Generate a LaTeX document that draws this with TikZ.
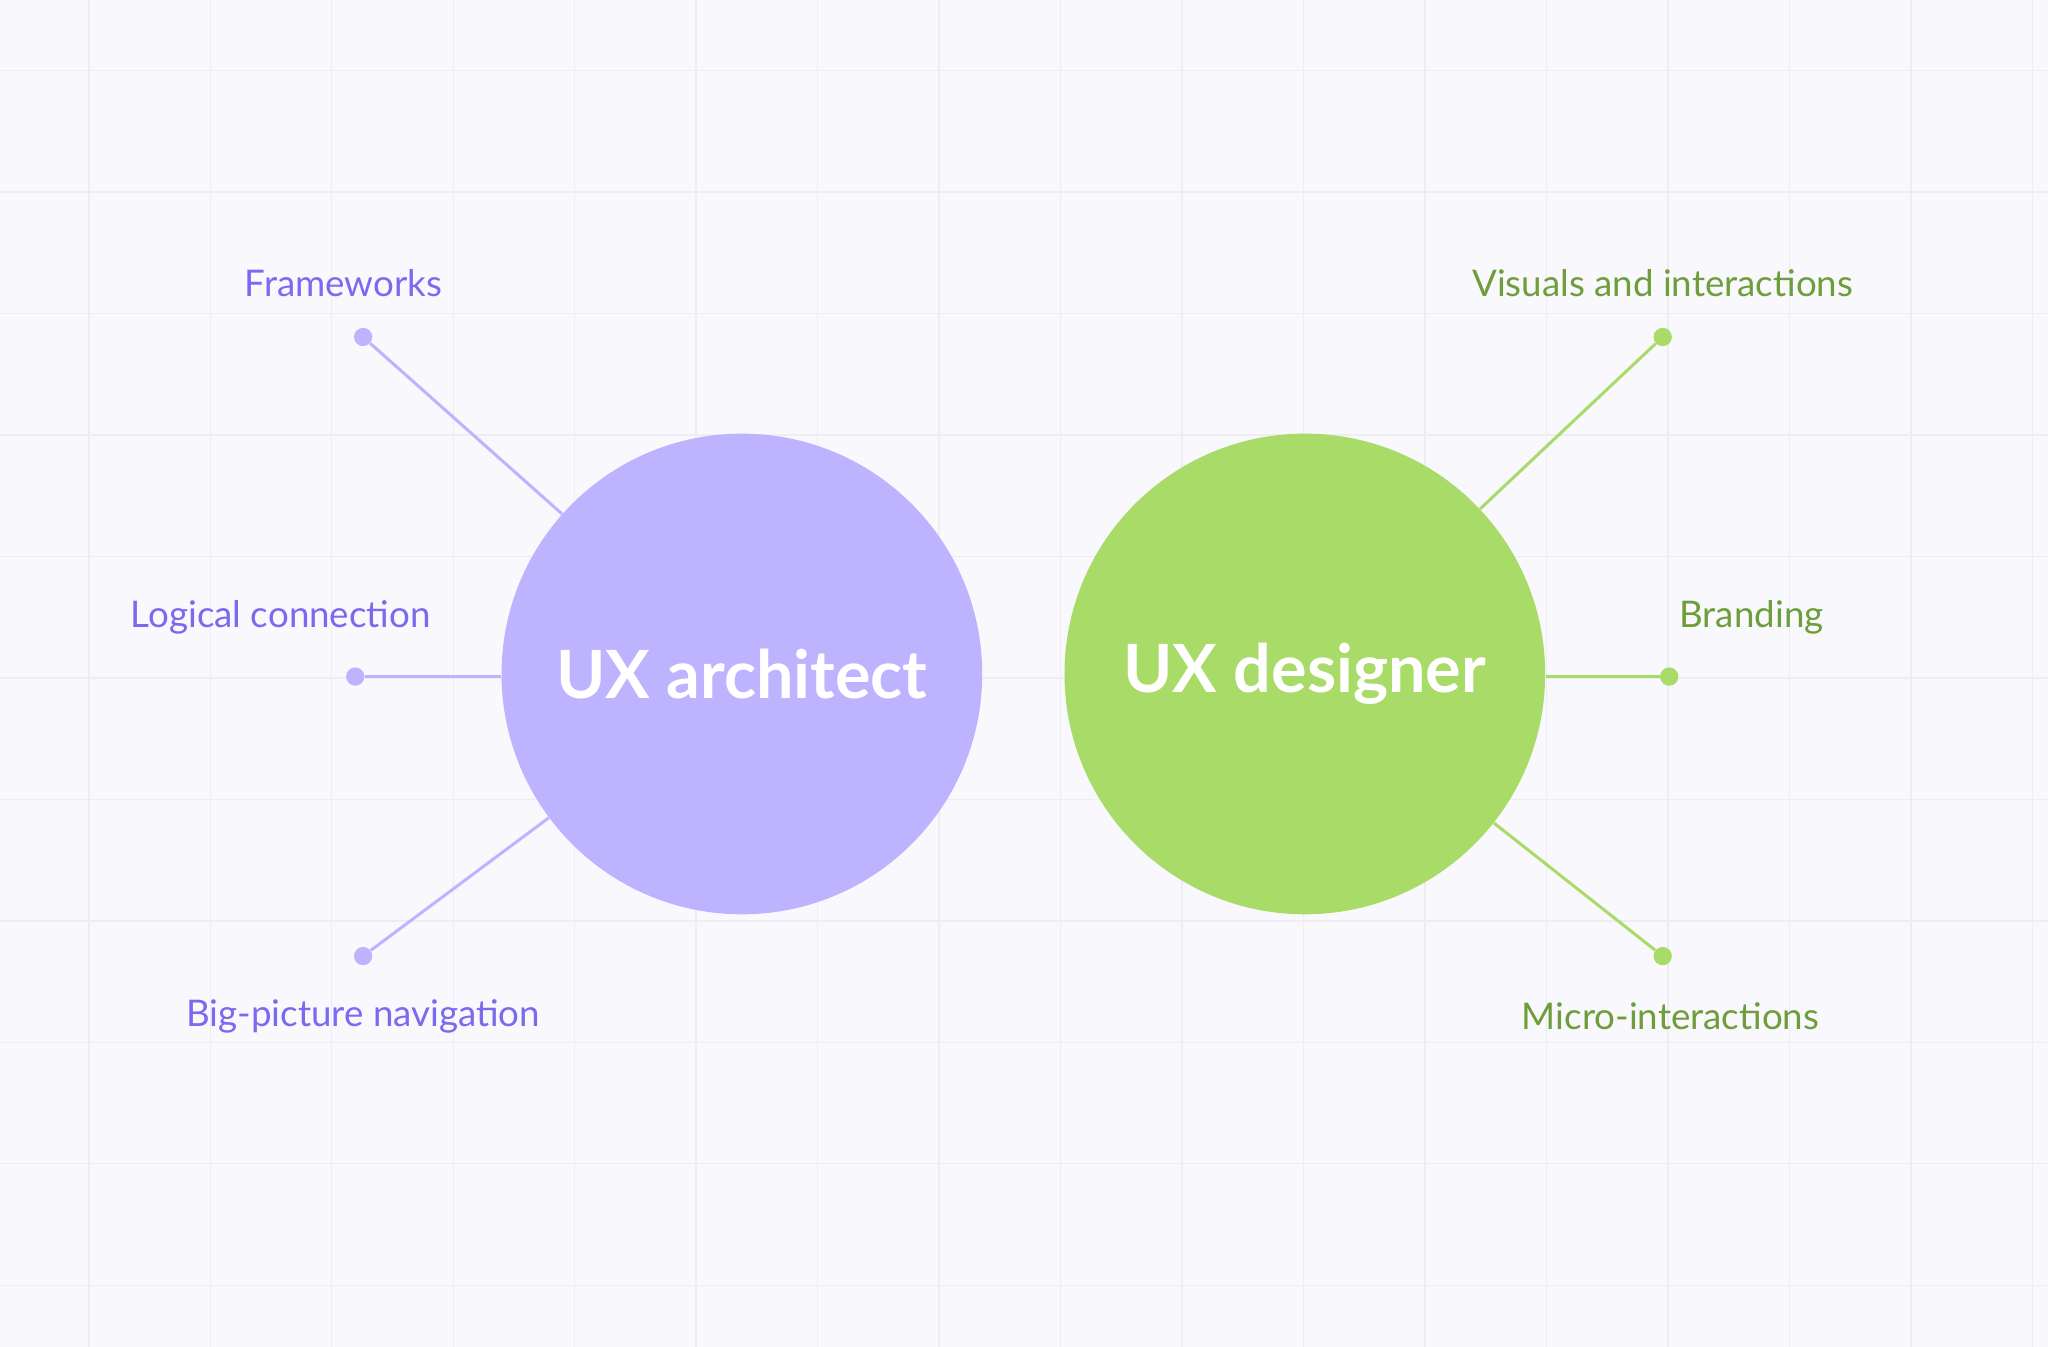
\documentclass[tikz,border=0pt]{standalone}
\usepackage{fontspec}
\setmainfont{Lato}
\definecolor{bg}{HTML}{F9F8FD}
\definecolor{gridc}{HTML}{EEEDF3}
\definecolor{purp}{HTML}{BDB3FF}
\definecolor{purpt}{HTML}{7B6AF0}
\definecolor{grn}{HTML}{A8DB67}
\definecolor{grnt}{HTML}{6E9E3A}
\begin{document}
\begin{tikzpicture}[x=0.02cm,y=-0.02cm,
  hub/.style={circle,minimum size=368*0.02cm,inner sep=0pt,text=white,font=\fontsize{29}{34}\selectfont\bfseries},
  dot/.style={circle,minimum size=14*0.02cm,inner sep=0pt},
  lab/.style={font=\fontsize{16}{19}\selectfont},
  link/.style={line width=1.3pt}]
\fill[bg] (0,0) rectangle (1568,1031);
\useasboundingbox (0,0) rectangle (1568,1031);
\foreach \x in {68,161,...,1568} \draw[gridc,line width=0.6pt] (\x,0) -- (\x,1031);
\foreach \y in {54,147,...,1031} \draw[gridc,line width=0.6pt] (0,\y) -- (1568,\y);
\node[hub,fill=purp] (A) at (568,516) {UX architect};
\node[hub,fill=grn] (D) at (999,516) {UX designer};
\node[dot,fill=purp] (a1) at (278,258) {};
\node[dot,fill=purp] (a2) at (272,518) {};
\node[dot,fill=purp] (a3) at (278,732) {};
\node[dot,fill=grn] (d1) at (1273,258) {};
\node[dot,fill=grn] (d2) at (1278,518) {};
\node[dot,fill=grn] (d3) at (1273,732) {};
\draw[link,purp] (a1) -- (A); \draw[link,purp] (a2) -- (A.west|-a2); \draw[link,purp] (a3) -- (A);
\draw[link,grn] (d1) -- (D); \draw[link,grn] (d2) -- (D.east|-d2); \draw[link,grn] (d3) -- (D);
\node[lab,text=purpt] (l1) at (263,217) {Frameworks};
\node[lab,text=purpt] (l2) at (215,473) {Logical connection};
\node[lab,text=purpt] (l3) at (278,778) {Big-picture navigation};
\node[lab,text=grnt] (m1) at (1273,217) {Visuals and interactions};
\node[lab,text=grnt] (m2) at (1341,473) {Branding};
\node[lab,text=grnt] (m3) at (1279,778) {Micro-interactions};
\end{tikzpicture}
\end{document}
